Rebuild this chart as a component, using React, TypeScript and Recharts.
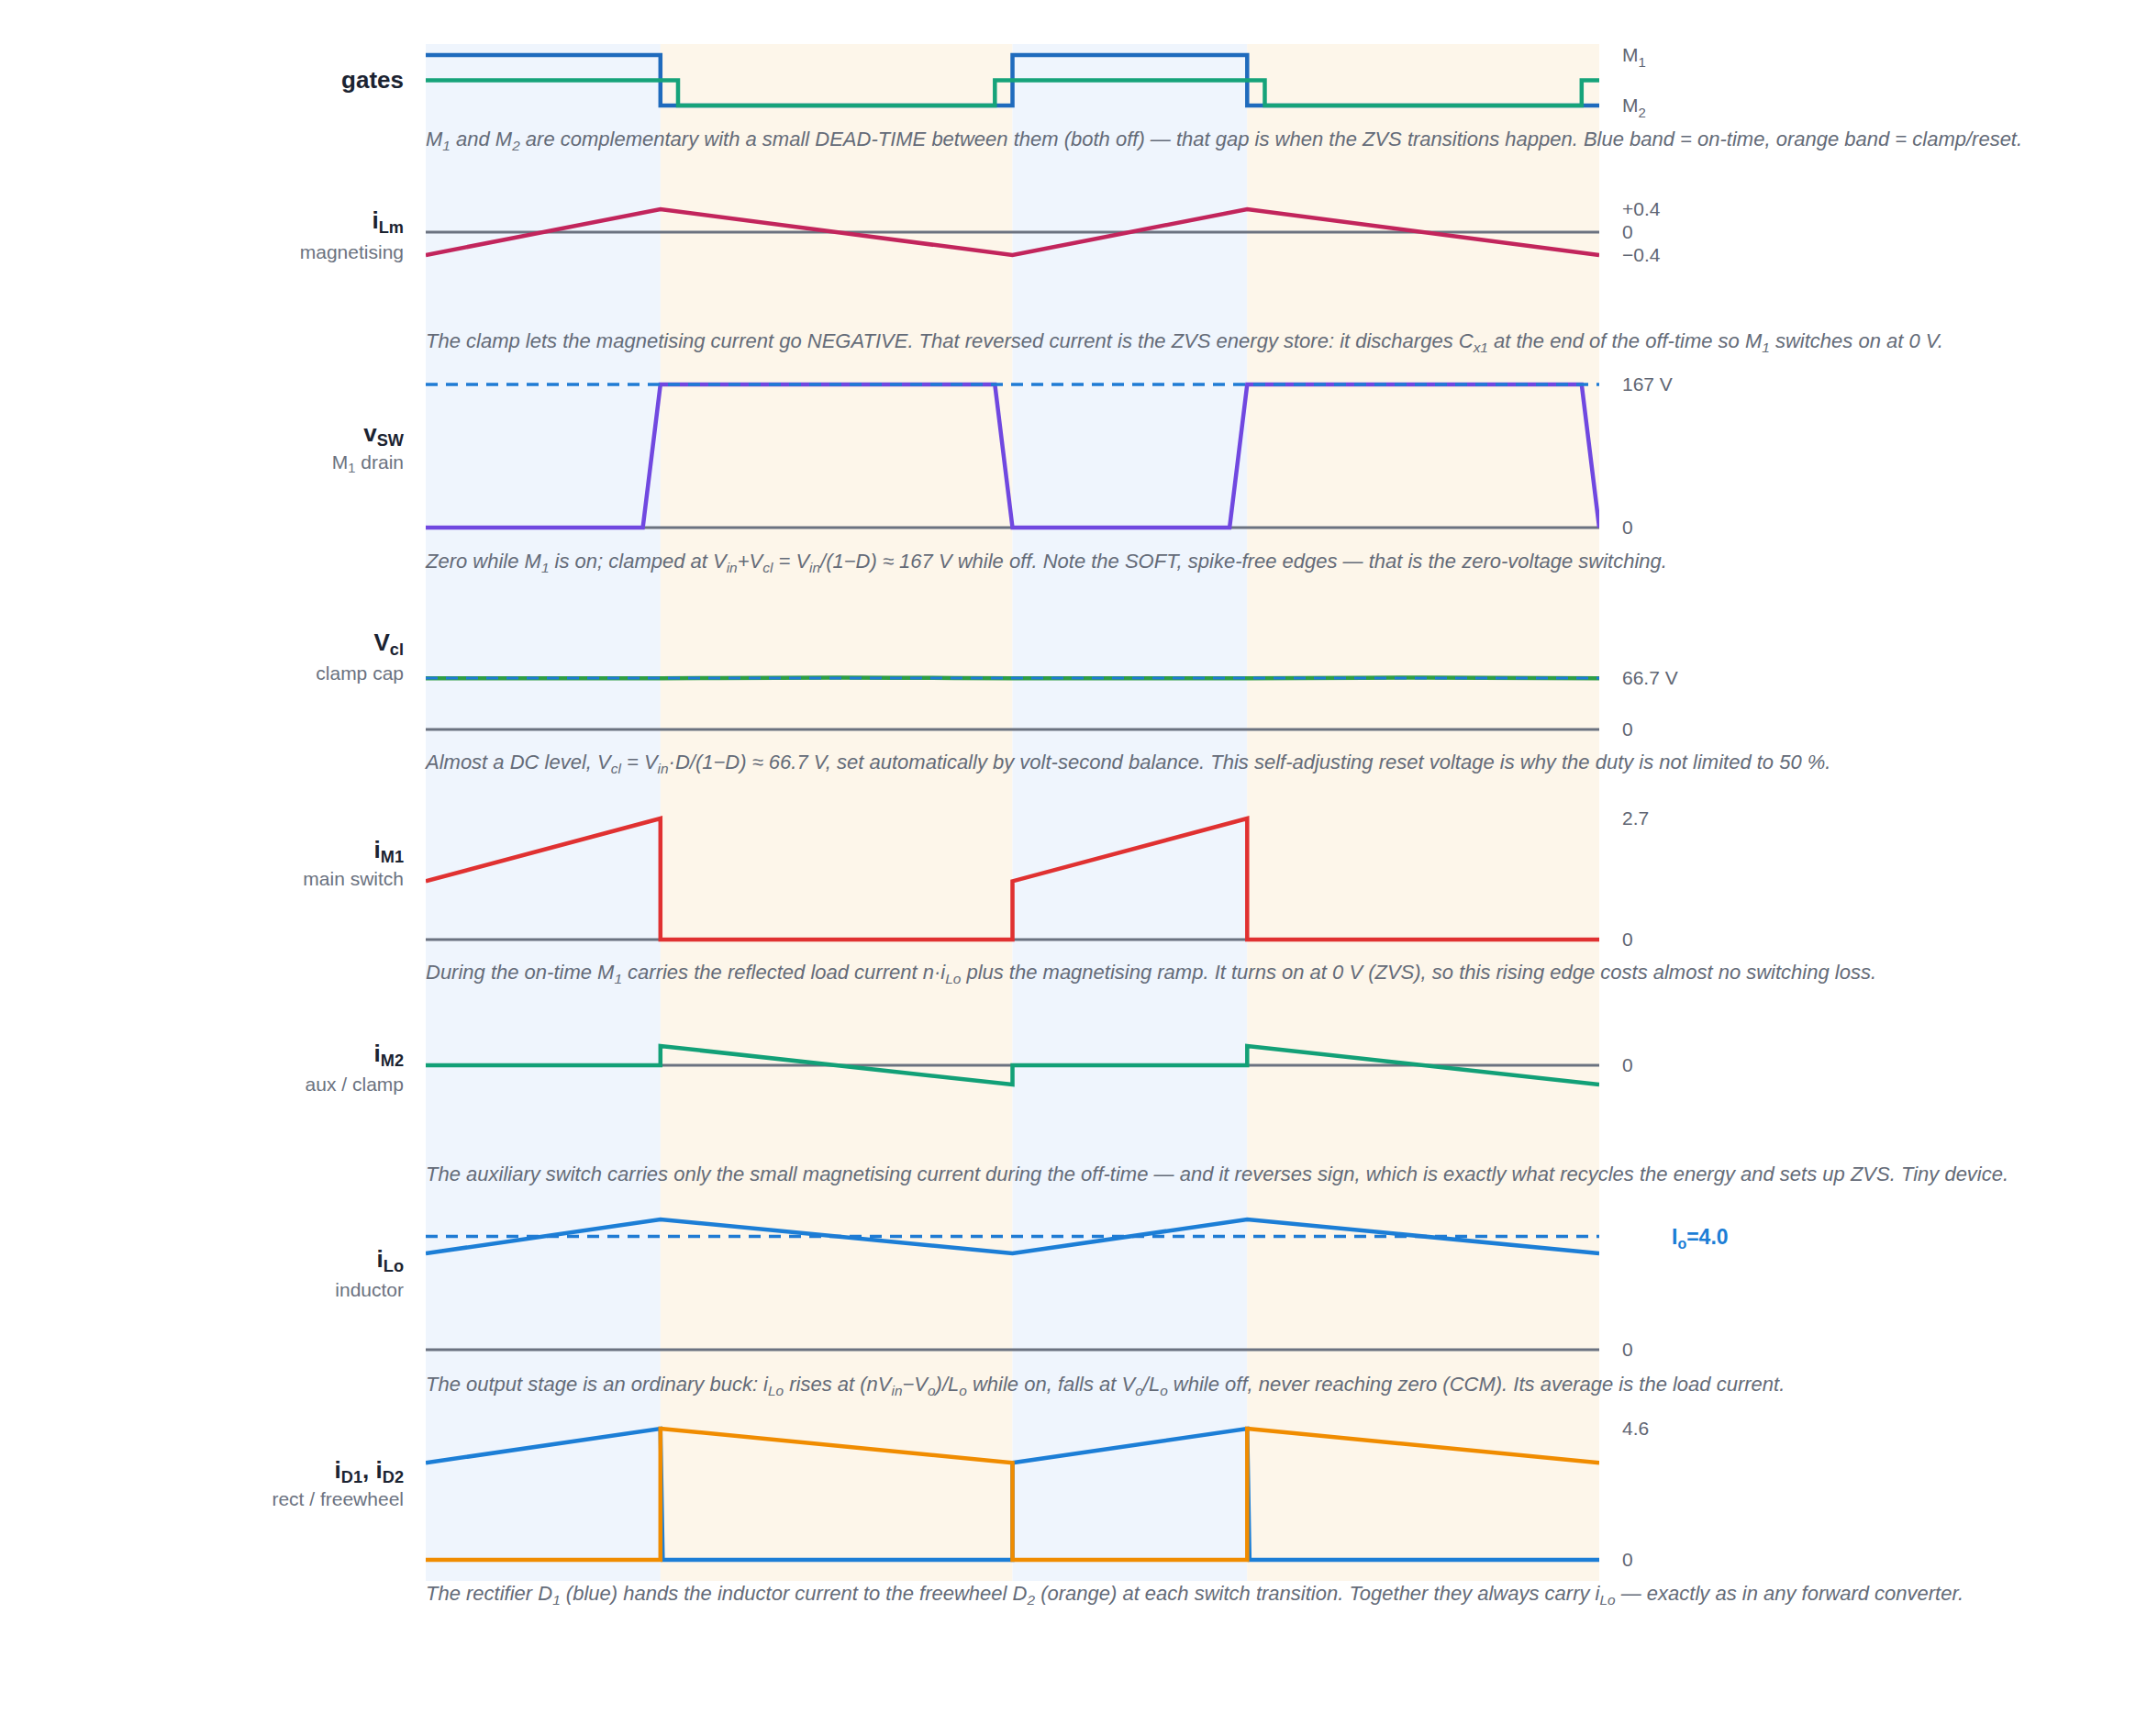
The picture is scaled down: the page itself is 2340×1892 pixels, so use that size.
import React from "react";
import { LineChart, Line, XAxis, YAxis, ReferenceArea } from "recharts";

type Pt = [number, number];

// time axis: two switching periods, D = 0.4
const bandEdges = [0, 0.4, 1.0, 1.4, 2.0];
const bandKinds = ["on", "off", "on", "off"];

// gate drives
const gateM1: Pt[] = [[0, 1], [0.4, 1], [0.4, 0], [1.0, 0], [1.0, 1], [1.4, 1], [1.4, 0], [2.0, 0]];
const gateM2: Pt[] = [[0, 0.5], [0.43, 0.5], [0.43, 0], [0.97, 0], [0.97, 0.5], [1.43, 0.5], [1.43, 0], [1.97, 0], [1.97, 0.5], [2.0, 0.5]];

// magnetising current
const iLm: Pt[] = [[0, -0.4], [0.4, 0.4], [1.0, -0.4], [1.4, 0.4], [2.0, -0.4]];

// switch node voltage and clamp level
const vSw: Pt[] = [[0, 0], [0.37, 0], [0.4, 166.7], [0.97, 166.7], [1.0, 0], [1.37, 0], [1.4, 166.7], [1.97, 166.7], [2.0, 0]];
const vSwClamp = 166.7;

// clamp capacitor voltage
const vCl: Pt[] = [[0, 66.3], [0.4, 66.3], [0.5, 66.8], [0.6, 67.1], [0.7, 67.2], [0.8, 67.1], [0.9, 66.8], [1.0, 66.3], [1.4, 66.3], [1.5, 66.8], [1.6, 67.1], [1.7, 67.2], [1.8, 67.1], [1.9, 66.8], [2.0, 66.3]];
const vClAvg = 66.7;

// switch currents
const iM1: Pt[] = [[0, 1.3], [0.4, 2.7], [0.4, 0], [1.0, 0], [1.0, 1.3], [1.4, 2.7], [1.4, 0], [2.0, 0]];
const iM2: Pt[] = [[0, 0], [0.4, 0], [0.4, 0.4], [1.0, -0.4], [1.0, 0], [1.4, 0], [1.4, 0.4], [2.0, -0.4]];

// output inductor and diodes
const iLo: Pt[] = [[0, 3.4], [0.4, 4.6], [1.0, 3.4], [1.4, 4.6], [2.0, 3.4]];
const ioAvg = 4.0;
const iD1: Pt[] = [[0, 3.4], [0.4, 4.6], [0.404, 0], [1.0, 0], [1.0, 3.4], [1.4, 4.6], [1.404, 0], [2.0, 0]];
const iD2: Pt[] = [[0, 0], [0.4, 0], [0.4, 4.6], [1.0, 3.4], [1.0, 0], [1.4, 0], [1.4, 4.6], [2.0, 3.4]];

const W = 2340;
const PLOT_L = 464;
const PLOT_R = 1743;
const AXIS_W = 100;
const FONT = "'Liberation Sans', Arial, Helvetica, sans-serif";

const BAND_FILL: Record<string, string> = { on: "#eff5fd", off: "#fdf6ea" };
const ZERO = "#6b7280";
const DASH_BLUE = "#1f7bd4";
const LW = 4.5;

const rows = (pts: Pt[]) => pts.map(([t, v]) => ({ t, v }));
const flat = (v: number): Pt[] => [[0, v], [2, v]];

// value range that puts vA at pixel yA and vB at pixel yB inside a slice
function domainFrom(top: number, bottom: number, vA: number, yA: number, vB: number, yB: number): [number, number] {
  const k = (vA - vB) / (yB - yA);
  return [vB - (bottom - yB) * k, vA + (yA - top) * k];
}

type Series = { pts: Pt[]; color: string; width: number; dash?: string };

type Panel = {
  key: string;
  top: number;
  bottom: number;
  map: [number, number, number, number];
  ticks: number[];
  series: Series[];
};

const panels: Panel[] = [
  {
    key: "gates", top: 48, bottom: 170, map: [1, 60, 0, 115], ticks: [1, 0],
    series: [
      { pts: gateM1, color: "#1f6bbd", width: LW },
      { pts: gateM2, color: "#16a37a", width: LW },
    ],
  },
  {
    key: "ilm", top: 170, bottom: 395, map: [0.4, 228, -0.4, 278], ticks: [0.4, 0, -0.4],
    series: [
      { pts: flat(0), color: ZERO, width: 3 },
      { pts: iLm, color: "#c2255c", width: LW },
    ],
  },
  {
    key: "vsw", top: 395, bottom: 635, map: [166.7, 419, 0, 575], ticks: [166.7, 0],
    series: [
      { pts: flat(0), color: ZERO, width: 3 },
      { pts: vSw, color: "#7048e0", width: LW },
      { pts: flat(vSwClamp), color: DASH_BLUE, width: 3.5, dash: "13 9" },
    ],
  },
  {
    key: "vcl", top: 635, bottom: 860, map: [66.7, 739, 0, 795], ticks: [66.7, 0],
    series: [
      { pts: flat(0), color: ZERO, width: 3 },
      { pts: vCl, color: "#2f9e44", width: LW },
      { pts: flat(vClAvg), color: DASH_BLUE, width: 3, dash: "13 9" },
    ],
  },
  {
    key: "im1", top: 860, bottom: 1085, map: [2.7, 892, 0, 1024], ticks: [2.7, 0],
    series: [
      { pts: flat(0), color: ZERO, width: 3 },
      { pts: iM1, color: "#e03131", width: LW },
    ],
  },
  {
    key: "im2", top: 1085, bottom: 1300, map: [0.4, 1140, 0, 1161], ticks: [0],
    series: [
      { pts: flat(0), color: ZERO, width: 3 },
      { pts: iM2, color: "#12a077", width: LW },
    ],
  },
  {
    key: "ilo", top: 1300, bottom: 1530, map: [4, 1347.5, 0, 1471], ticks: [4, 0],
    series: [
      { pts: flat(0), color: ZERO, width: 3 },
      { pts: iLo, color: "#1c7ed6", width: LW },
      { pts: flat(ioAvg), color: DASH_BLUE, width: 3.5, dash: "13 9" },
    ],
  },
  {
    key: "id", top: 1530, bottom: 1723, map: [4.6, 1557, 0, 1700], ticks: [4.6, 0],
    series: [
      { pts: flat(0), color: ZERO, width: 3 },
      { pts: iD1, color: "#1c7ed6", width: LW },
      { pts: iD2, color: "#f08c00", width: LW },
    ],
  },
];

const TICK_FILL = "#5f6673";

function tickFor(key: string) {
  return (p: any) => {
    const v = p.payload.value as number;
    const x = p.x;
    const y = p.y;
    const base = { x, y, dy: "0.35em", fontSize: 21, fontFamily: FONT, fill: TICK_FILL, textAnchor: "start" as const };
    if (key === "gates") {
      return (
        <text {...base}>
          <tspan>M</tspan>
          <tspan fontSize={15} dy={6}>{v === 1 ? "1" : "2"}</tspan>
        </text>
      );
    }
    if (key === "ilo" && v === 4) {
      return (
        <text {...base} x={x + 54} fontSize={23} fill="#1c7ed6" fontWeight="bold">
          <tspan>I</tspan>
          <tspan fontSize={16} dy={5}>o</tspan>
          <tspan dy={-5}>=4.0</tspan>
        </text>
      );
    }
    let s = String(v);
    if (v === 0) s = "0";
    else if (key === "ilm") s = v > 0 ? "+" + v.toFixed(1) : "\u2212" + Math.abs(v).toFixed(1);
    else if (key === "vsw") s = "167 V";
    else if (key === "vcl") s = "66.7 V";
    return <text {...base}>{s}</text>;
  };
}

function PanelChart({ panel }: { panel: Panel }) {
  const h = panel.bottom - panel.top;
  const [a, ya, b, yb] = panel.map;
  const domain = domainFrom(panel.top, panel.bottom, a, ya, b, yb);
  return (
    <div style={{ position: "absolute", left: 0, top: panel.top, width: W, height: h }}>
      <LineChart width={W} height={h} margin={{ top: 0, bottom: 0, left: PLOT_L, right: W - PLOT_R - AXIS_W }}>
        <XAxis dataKey="t" type="number" domain={[0, 2]} hide allowDataOverflow />
        <YAxis
          orientation="right"
          type="number"
          width={AXIS_W}
          domain={domain}
          allowDataOverflow
          ticks={panel.ticks}
          interval={0}
          axisLine={false}
          tickLine={false}
          tickSize={0}
          tickMargin={25}
          tick={tickFor(panel.key)}
        />
        {bandKinds.map((k, i) => (
          <ReferenceArea
            key={i}
            x1={bandEdges[i]}
            x2={bandEdges[i + 1]}
            fill={BAND_FILL[k]}
            fillOpacity={1}
            stroke="none"
            ifOverflow="visible"
          />
        ))}
        {panel.series.map((s, i) => (
          <Line
            key={i}
            data={rows(s.pts)}
            dataKey="v"
            type="linear"
            stroke={s.color}
            strokeWidth={s.width}
            strokeDasharray={s.dash}
            dot={false}
            activeDot={false}
            isAnimationActive={false}
          />
        ))}
      </LineChart>
    </div>
  );
}

const Sub = ({ children }: { children: React.ReactNode }) => (
  <span style={{ fontSize: "0.7em", position: "relative", top: "0.3em" }}>{children}</span>
);

const sideLabels: { y: number; main: React.ReactNode; subY?: number; sub?: React.ReactNode }[] = [
  { y: 87, main: <>gates</> },
  { y: 240, main: <>i<Sub>Lm</Sub></>, subY: 275, sub: "magnetising" },
  { y: 472, main: <>v<Sub>SW</Sub></>, subY: 504, sub: <>M<Sub>1</Sub> drain</> },
  { y: 700, main: <>V<Sub>cl</Sub></>, subY: 734, sub: "clamp cap" },
  { y: 926, main: <>i<Sub>M1</Sub></>, subY: 958, sub: "main switch" },
  { y: 1148, main: <>i<Sub>M2</Sub></>, subY: 1182, sub: "aux / clamp" },
  { y: 1372, main: <>i<Sub>Lo</Sub></>, subY: 1406, sub: "inductor" },
  { y: 1602, main: <>i<Sub>D1</Sub>, i<Sub>D2</Sub></>, subY: 1634, sub: "rect / freewheel" },
];

const captions: { y: number; text: React.ReactNode }[] = [
  { y: 152, text: <>M<Sub>1</Sub> and M<Sub>2</Sub> are complementary with a small DEAD-TIME between them (both off) — that gap is when the ZVS transitions happen. Blue band = on-time, orange band = clamp/reset.</> },
  { y: 372, text: <>The clamp lets the magnetising current go NEGATIVE. That reversed current is the ZVS energy store: it discharges C<Sub>x1</Sub> at the end of the off-time so M<Sub>1</Sub> switches on at 0 V.</> },
  { y: 612, text: <>Zero while M<Sub>1</Sub> is on; clamped at V<Sub>in</Sub>+V<Sub>cl</Sub> = V<Sub>in</Sub>/(1−D) ≈ 167 V while off. Note the SOFT, spike-free edges — that is the zero-voltage switching.</> },
  { y: 831, text: <>Almost a DC level, V<Sub>cl</Sub> = V<Sub>in</Sub>·D/(1−D) ≈ 66.7 V, set automatically by volt-second balance. This self-adjusting reset voltage is why the duty is not limited to 50 %.</> },
  { y: 1060, text: <>During the on-time M<Sub>1</Sub> carries the reflected load current n·i<Sub>Lo</Sub> plus the magnetising ramp. It turns on at 0 V (ZVS), so this rising edge costs almost no switching loss.</> },
  { y: 1280, text: <>The auxiliary switch carries only the small magnetising current during the off-time — and it reverses sign, which is exactly what recycles the energy and sets up ZVS. Tiny device.</> },
  { y: 1509, text: <>The output stage is an ordinary buck: i<Sub>Lo</Sub> rises at (nV<Sub>in</Sub>−V<Sub>o</Sub>)/L<Sub>o</Sub> while on, falls at V<Sub>o</Sub>/L<Sub>o</Sub> while off, never reaching zero (CCM). Its average is the load current.</> },
  { y: 1737, text: <>The rectifier D<Sub>1</Sub> (blue) hands the inductor current to the freewheel D<Sub>2</Sub> (orange) at each switch transition. Together they always carry i<Sub>Lo</Sub> — exactly as in any forward converter.</> },
];

export default function App() {
  return (
    <div style={{ position: "absolute", left: 0, top: 0, width: W, height: 1892, background: "#fff", fontFamily: FONT, overflow: "hidden" }}>
      {panels.map((p) => (
        <PanelChart key={p.key} panel={p} />
      ))}
      {sideLabels.map((l, i) => (
        <React.Fragment key={i}>
          <div style={{ position: "absolute", right: W - 440, top: l.y - 15, lineHeight: "30px", fontSize: 26, fontWeight: "bold", color: "#1b2331", whiteSpace: "nowrap", textAlign: "right" }}>
            {l.main}
          </div>
          {l.sub && (
            <div style={{ position: "absolute", right: W - 440, top: (l.subY as number) - 12, lineHeight: "24px", fontSize: 21, color: "#6b7280", whiteSpace: "nowrap", textAlign: "right" }}>
              {l.sub}
            </div>
          )}
        </React.Fragment>
      ))}
      {captions.map((c, i) => (
        <div key={i} style={{ position: "absolute", left: PLOT_L, top: c.y - 13, lineHeight: "26px", fontSize: 22, fontStyle: "italic", color: "#646b78", whiteSpace: "nowrap" }}>
          {c.text}
        </div>
      ))}
    </div>
  );
}
